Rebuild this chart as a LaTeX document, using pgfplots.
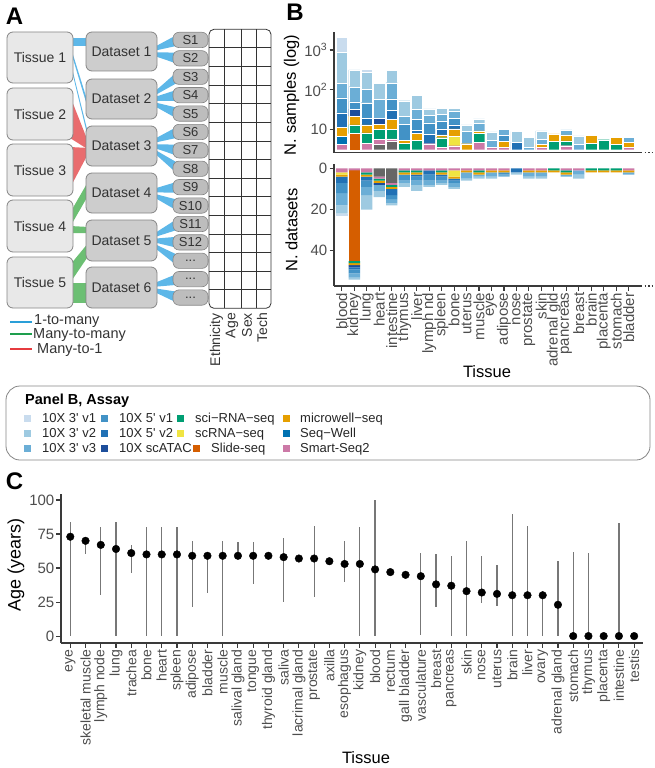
\documentclass[border=0pt]{standalone}
\usepackage{fontspec}
\setmainfont{Liberation Sans}[Ligatures=TeXOff]
\usepackage{pgfplots}
\pgfplotsset{compat=1.18}
\usepackage{pgfplotstable}
\newcommand\fs[1]{\fontsize{#1}{#1}\selectfont}

\definecolor{cG}{HTML}{666666}
\definecolor{cP}{HTML}{CC79A7}
\definecolor{cSW}{HTML}{0072B2}
\definecolor{cSL}{HTML}{D55E00}
\definecolor{cY}{HTML}{F0E442}
\definecolor{cGR}{HTML}{009E73}
\definecolor{cO}{HTML}{E69F00}
\definecolor{cN}{HTML}{1D4E9B}
\definecolor{cBfb}{HTML}{2171B5}
\definecolor{cBfa}{HTML}{4292C6}
\definecolor{cBtc}{HTML}{6BAED6}
\definecolor{cBtb}{HTML}{9ECAE1}
\definecolor{cBta}{HTML}{C9DCEE}
\definecolor{lblue}{HTML}{5DB7E8}
\definecolor{lgreen}{HTML}{6CBF73}
\definecolor{lred}{HTML}{E96C6E}
\definecolor{legblue}{HTML}{2A9FD8}
\definecolor{leggreen}{HTML}{1E9E4D}
\definecolor{legred}{HTML}{E63B3F}
\definecolor{tfill}{HTML}{E8E8E8}
\definecolor{dfill}{HTML}{CDCDCD}
\definecolor{pfill}{HTML}{BDBDBD}
\definecolor{bdr}{HTML}{858585}
\definecolor{txtc}{HTML}{333333}
\definecolor{axc}{HTML}{3A3A3A}
\definecolor{tlc}{HTML}{4D4D4D}
\definecolor{ebc}{HTML}{777777}

% top panel: heights of stacked segments in decades (log10 units)
\pgfplotstableread{
x  G     P     SW    SL    Y     GR    O     N     B5b   B5a   B3c   B3b   B3a   base
0  0     0.143 0.193 0     0     0     0.218 0     0.370 0.378 0.361 0.773 0.387 0.5
1  0     0     0     0.403 0     0.218 0.218 0.176 0     0.185 0.378 0.420 0     0.5
2  0     0.168 0     0     0     0.252 0.202 0     0.160 0.395 0.336 0.429 0.076 0.5
3  0.143 0.118 0     0     0     0.244 0.134 0.151 0     0     0.471 0.403 0     0.5
4  0.202 0.067 0     0     0     0.235 0.252 0     0.235 0.286 0.403 0.303 0     0.5
5  0     0     0     0     0     0.168 0.067 0     0     0.403 0.202 0.387 0     0.5
6  0     0     0     0     0     0.235 0.168 0     0.084 0.269 0.252 0.353 0     0.5
7  0     0.151 0     0     0     0     0     0     0.235 0.286 0.193 0.160 0     0.5
8  0     0.067 0     0     0     0.235 0.067 0     0.151 0.202 0.168 0.151 0     0.5
9  0     0.101 0     0     0.235 0     0.185 0     0.101 0.168 0.185 0.067 0     0.5
10 0     0     0     0     0     0     0.151 0     0     0     0.303 0.168 0     0.5
11 0     0.185 0     0     0     0.218 0.067 0     0     0     0.185 0.118 0     0.5
12 0     0.067 0     0     0     0     0     0     0     0     0.168 0.210 0     0.5
13 0     0.067 0     0     0     0     0.151 0     0     0.143 0.143 0     0     0.5
14 0     0     0     0     0     0     0     0     0.193 0     0     0.269 0     0.5
15 0     0     0     0     0     0     0     0     0     0     0.067 0.244 0     0.5
16 0     0.067 0     0     0     0     0.067 0     0     0     0.134 0.202 0     0.5
17 0     0     0     0     0     0.202 0.193 0     0     0     0     0     0     0.5
18 0     0.101 0     0     0     0.118 0.151 0     0     0     0.126 0     0     0.5
19 0     0     0     0     0     0     0     0     0     0     0.143 0.202 0     0.5
20 0     0     0     0     0     0.160 0.202 0     0     0     0     0     0     0.5
21 0     0     0     0     0     0.252 0     0     0     0     0     0     0     0.5
22 0     0     0     0     0     0.143 0.168 0     0     0     0     0     0     0.5
23 0     0.067 0     0     0     0     0.118 0     0     0     0.118 0     0     0.5
}\topdata

% bottom panel: number of datasets
\pgfplotstableread{
x  G P SW SL Y GR O N B5b B5a B3c B3b B3a
0  0 2 0  0  1 0  1 0 3   5   6   4   1
1  0 1 0  44 0 1  1 1 1   2   2   1   0
2  0 2 0  0  0 1  1 0 2   3   4   7   0
3  4 1 0  0  0 1  1 1 0   0   3   3   0
4  7 1 0  0  0 1  1 0 3   2   2   1   0
5  0 1 0  0  0 1  1 0 0   3   1   2   0
6  0 1 0  0  0 1  1 0 1   2   2   3   0
7  0 1 0  0  0 0  0 0 2   3   2   1   0
8  0 1 0  0  0 1  1 0 1   2   1   1   0
9  0 1 0  0  3 0  1 0 1   1   2   1   0
10 0 1 0  0  0 0  1 0 0   0   3   1   0
11 0 1 0  0  0 1  1 0 0   0   1   1   0
12 0 1 0  0  0 0  1 0 0   0   2   1   0
13 0 1 0  0  0 0  1 0 0   1   1   0   0
14 0 0 0  0  0 0  0 0 2   0   0   1   0
15 0 1 0  0  0 0  1 0 0   0   2   1   0
16 0 1 0  0  0 0  1 0 0   0   2   1   0
17 0 0 0  0  0 1  1 0 0   0   0   0   0
18 0 1 0  0  0 1  1 0 0   0   1   0   0
19 0 1 0  0  0 0  0 0 0   0   2   2   0
20 0 0 0  0  0 1  1 0 0   0   0   0   0
21 0 0 0  0  0 1  1 0 0   0   0   0   0
22 0 0 0  0  0 1  1 0 0   0   0   0   0
23 0 1 0  0  0 0  1 0 0   0   1   0   0
}\botdata

% panel C: median age with range
\pgfplotstableread{
x  med lo hi
0  73  0  84
1  70  60 70
2  67  30 80
3  64  0  84
4  61  46 67
5  60  0  80
6  60  0  80
7  60  0  80
8  59  21 70
9  59  32 59
10 59  0  70
11 59  59 69
12 59  38 69
13 59  59 59
14 58  25 72
15 57  57 57
16 57  29 81
17 55  55 55
18 53  40 70
19 53  0  80
20 49  0  100
21 47  47 47
22 45  45 45
23 44  1  61
24 38  21 60
25 37  0  59
26 33  0  70
27 32  24 59
28 31  22 52
29 30  0  90
30 30  0  81
31 30  0  30
32 23  0  55
33 0   0  62
34 0   0  61
35 0   0  0
36 0   0  83
37 0   0  0
}\agedata

\pgfplotsset{
  myax/.style={scale only axis,
    axis line style={draw=axc, line width=1.3pt},
    tick style={draw=axc, line width=1.1pt},
    major tick length=4.5pt, tick align=outside,
    tick label style={text=tlc, inner sep=2pt},
    /pgf/number format/assume math mode=true},
  seg/.style={draw=white, line width=0.3pt, fill=#1},
  segb/.style={draw=none, fill=#1},
}

\begin{document}
\begin{tikzpicture}[x=1pt,y=-1pt]
\useasboundingbox (0,0) rectangle (655,768);

% ---------------- Panel A (schematic) ----------------
\node[font=\fs{24}\bfseries] at (14.5,16) {A};
% tissue -> dataset ribbons
\fill[lblue] (70,38) -- (89,38) -- (89,46) -- (70,46) -- cycle;
\fill[lblue] (70,45) -- (70,49) -- (89,112) -- (89,106) -- cycle;
\fill[lblue] (70,60) -- (70,63) -- (89,142) -- (89,137) -- cycle;
\fill[lred] (70,96) -- (70,138) -- (89,150) -- (89,144) -- cycle;
\fill[lred] (70,147) -- (70,188) -- (89,152) -- (89,148) -- cycle;
\fill[lgreen] (70,213) -- (70,227) -- (89,194) -- (89,180) -- cycle;
\fill[lgreen] (70,226) -- (89,227) -- (89,233) -- (70,233) -- cycle;
\fill[lgreen] (70,265) -- (70,283) -- (89,255) -- (89,242) -- cycle;
\fill[lgreen] (70,283) -- (89,283) -- (89,303) -- (70,303) -- cycle;
% dataset -> sample fans
\foreach \yc/\k/\off in {51.5/1/-2.5, 51.5/2/2.5, 99/3/-5, 99/4/0, 99/5/5,
  146/6/-5, 146/7/0, 146/8/5, 193/9/-2.5, 193/10/2.5,
  240.5/11/-5, 240.5/12/0, 240.5/13/5, 287.5/14/-2.5, 287.5/15/2.5}{
  \pgfmathsetmacro\ptop{32.3+18.4*(\k-1)}
  \fill[lblue] (154,{\yc+\off-1.8}) -- (178,{\ptop+2}) -- (178,{\ptop+13.3}) -- (154,{\yc+\off+1.8}) -- cycle;
}
% tissue boxes
\foreach \a/\b/\n in {32/83/1, 88/140/2, 144/196/3, 200/252/4, 257/308/5}{
  \draw[draw=bdr, fill=tfill, rounded corners=6pt, line width=0.8pt] (7,\a) rectangle (73,\b);
  \node[font=\fs{14}, text=txtc] at (40,{(\a+\b)/2}) {Tissue \n};
}
% dataset boxes
\foreach \a/\b/\n in {32/71/1, 79/119/2, 126/166/3, 173/213/4, 220/261/5, 267/308/6}{
  \draw[draw=bdr, fill=dfill, rounded corners=6pt, line width=0.8pt] (86,\a) rectangle (157,\b);
  \node[font=\fs{14}, text=txtc] at (121.5,{(\a+\b)/2}) {Dataset \n};
}
% sample pills
\foreach \k in {1,...,15}{
  \pgfmathsetmacro\ptop{32.3+18.4*(\k-1)}
  \draw[draw=bdr, fill=pfill, rounded corners=6pt, line width=0.6pt] (173,\ptop) rectangle (208,{\ptop+15.3});
  \node[font=\fs{13}, text=txtc] at (190.5,{\ptop+7.65}) {\ifnum\k<13 S\k\else ...\fi};
}
% metadata grid
\draw[draw=txtc, line width=0.8pt, rounded corners=5pt] (209,29.3) rectangle (271,308.3);
\foreach \x in {224,241,256} \draw[draw=txtc, line width=0.8pt] (\x,29.3) -- (\x,308.3);
\foreach \k in {1,...,14} \draw[draw=txtc, line width=0.8pt] (209,{29.3+18.6*\k}) -- (271,{29.3+18.6*\k});
\foreach \x/\t in {216.5/Ethnicity, 232/Age, 247/Sex, 262/Tech}
  \node[font=\fs{14}, text=txtc, rotate=90, anchor=east, inner sep=1pt] at (\x,312) {\t};
% legend A
\draw[legblue, line width=2pt] (10,321.7) -- (32,321.7);
\draw[leggreen, line width=2pt] (10,334) -- (32,334);
\draw[legred, line width=2pt] (10,349.3) -- (32,349.3);
\node[font=\fs{14.5}, text=txtc, anchor=west, inner sep=0pt] at (34,321) {1-to-many};
\node[font=\fs{14.5}, text=txtc, anchor=west, inner sep=0pt] at (33,335) {Many-to-many};
\node[font=\fs{14.5}, text=txtc, anchor=west, inner sep=0pt] at (37,350) {Many-to-1};

% ---------------- Panel B ----------------
\node[font=\fs{24}\bfseries] at (295,12.5) {B};
\begin{axis}[myax, at={(334pt,-152.5pt)}, anchor=south west,
  width=308pt, height=120.5pt,
  ybar stacked, bar width=0.91,
  xmin=-0.63, xmax=24.07, ymin=0.43, ymax=3.45,
  axis x line*=bottom, axis y line*=left,
  xtick=\empty, ytick={1,2,3},
  yticklabels={10,{10\textsuperscript{2}},{10\textsuperscript{3}}},
  yticklabel style={font=\fs{15}}]
\addplot[draw=none, fill=none] table[x=x,y=base]{\topdata};
\addplot[seg=cG]   table[x=x,y=G]{\topdata};
\addplot[seg=cP]   table[x=x,y=P]{\topdata};
\addplot[seg=cSW]  table[x=x,y=SW]{\topdata};
\addplot[seg=cSL]  table[x=x,y=SL]{\topdata};
\addplot[seg=cY]   table[x=x,y=Y]{\topdata};
\addplot[seg=cGR]  table[x=x,y=GR]{\topdata};
\addplot[seg=cO]   table[x=x,y=O]{\topdata};
\addplot[seg=cN]   table[x=x,y=N]{\topdata};
\addplot[seg=cBfb] table[x=x,y=B5b]{\topdata};
\addplot[seg=cBfa] table[x=x,y=B5a]{\topdata};
\addplot[seg=cBtc] table[x=x,y=B3c]{\topdata};
\addplot[seg=cBtb] table[x=x,y=B3b]{\topdata};
\addplot[seg=cBta] table[x=x,y=B3a]{\topdata};
\end{axis}

\begin{axis}[myax, at={(334pt,-286pt)}, anchor=south west,
  width=308pt, height=122pt,
  ybar stacked, bar width=0.91, y dir=reverse,
  xmin=-0.63, xmax=24.07, ymin=-2.1, ymax=57.1,
  axis x line*=bottom, axis y line*=left,
  xtick={0,...,23},
  xticklabels={blood,kidney,lung,heart,intestine,thymus,liver,lymph nd,spleen,bone,uterus,muscle,eye,adipose,nose,prostate,skin,adrenal gld,pancreas,breast,brain,placenta,stomach,bladder},
  xticklabel style={font=\fs{15}, rotate=90, anchor=east},
  ytick={0,20,40},
  yticklabel style={font=\fs{15}}]
\addplot[segb=cG]   table[x=x,y=G]{\botdata};
\addplot[segb=cP]   table[x=x,y=P]{\botdata};
\addplot[segb=cSW]  table[x=x,y=SW]{\botdata};
\addplot[segb=cSL]  table[x=x,y=SL]{\botdata};
\addplot[segb=cY]   table[x=x,y=Y]{\botdata};
\addplot[segb=cGR]  table[x=x,y=GR]{\botdata};
\addplot[segb=cO]   table[x=x,y=O]{\botdata};
\addplot[segb=cN]   table[x=x,y=N]{\botdata};
\addplot[segb=cBfb] table[x=x,y=B5b]{\botdata};
\addplot[segb=cBfa] table[x=x,y=B5a]{\botdata};
\addplot[segb=cBtc] table[x=x,y=B3c]{\botdata};
\addplot[segb=cBtb] table[x=x,y=B3b]{\botdata};
\addplot[segb=cBta] table[x=x,y=B3a]{\botdata};
\end{axis}
\draw[axc, line width=1.3pt, dash pattern=on 1.5pt off 2pt] (644.5,152.5) -- (652,152.5);
\draw[axc, line width=1.3pt, dash pattern=on 1.5pt off 2pt] (644.5,286) -- (652,286);
\node[font=\fs{16.5}, rotate=90] at (291.5,95) {N. samples (log)};
\node[font=\fs{16.5}, rotate=90] at (291.5,230) {N. datasets};
\node[font=\fs{16.5}] at (487,371.5) {Tissue};

% ---------------- Legend of panel B ----------------
\draw[draw=bdr, line width=0.8pt, rounded corners=14pt] (6,386) rectangle (650,460);
\node[font=\fs{14.5}\bfseries, anchor=base west, inner sep=0pt] at (25,404) {Panel B, Assay};
\foreach \sx/\tx/\ry/\c/\t in {
  24/42/418/cBta/{10X 3' v1}, 24/42/433/cBtb/{10X 3' v2}, 24/42/448/cBtc/{10X 3' v3},
  101/119/418/cBfa/{10X 5' v1}, 101/119/433/cBfb/{10X 5' v2}, 101/119/448/cN/{10X scATAC},
  177/195/418/cGR/{sci−RNA−seq}, 177/195/433/cY/{scRNA−seq}, 193/211/448/cSL/{Slide-seq},
  283/300/418/cO/{microwell−seq}, 283/300/433/cSW/{Seq−Well}, 283/300/448/cP/{Smart-Seq2}}{
  \fill[\c] (\sx,{\ry-3.5}) rectangle ({\sx+7},{\ry+3.5});
  \node[font=\fs{13}, text=black!85, anchor=base west, inner sep=0pt] at (\tx,{\ry+4.6}) {\t};
}

% ---------------- Panel C ----------------
\node[font=\fs{24}\bfseries] at (14.5,481) {C};
\begin{axis}[myax, at={(61pt,-643pt)}, anchor=south west,
  width=582pt, height=149pt,
  xmin=-0.61, xmax=37.58, ymin=-5.1, ymax=104.4,
  axis x line*=bottom, axis y line*=left,
  xtick={0,...,37},
  xticklabels={eye,skeletal muscle,lymph node,lung,trachea,bone,heart,spleen,adipose,bladder,muscle,salival gland,tongue,thyroid gland,saliva,lacrimal gland,prostate,axilla,esophagus,kidney,blood,rectum,gall bladder,vasculature,breast,pancreas,skin,nose,uterus,brain,liver,ovary,adrenal gland,stomach,thymus,placenta,intestine,testis},
  xticklabel style={font=\fs{14}, rotate=90, anchor=east},
  ytick={0,25,50,75,100},
  yticklabel style={font=\fs{15}},
  clip=false]
\addplot[only marks, mark=*, mark size=3.8pt, mark options={fill=black, draw=black},
  error bars/.cd, y dir=both, y explicit, error mark=none,
  error bar style={draw=ebc, line width=1.2pt}]
  table[x=x, y=med, y error plus expr=\thisrow{hi}-\thisrow{med},
        y error minus expr=\thisrow{med}-\thisrow{lo}]{\agedata};
\end{axis}
\node[font=\fs{18}, rotate=90] at (16,565) {Age (years)};
\node[font=\fs{16.5}] at (366,758) {Tissue};
\end{tikzpicture}
\end{document}
